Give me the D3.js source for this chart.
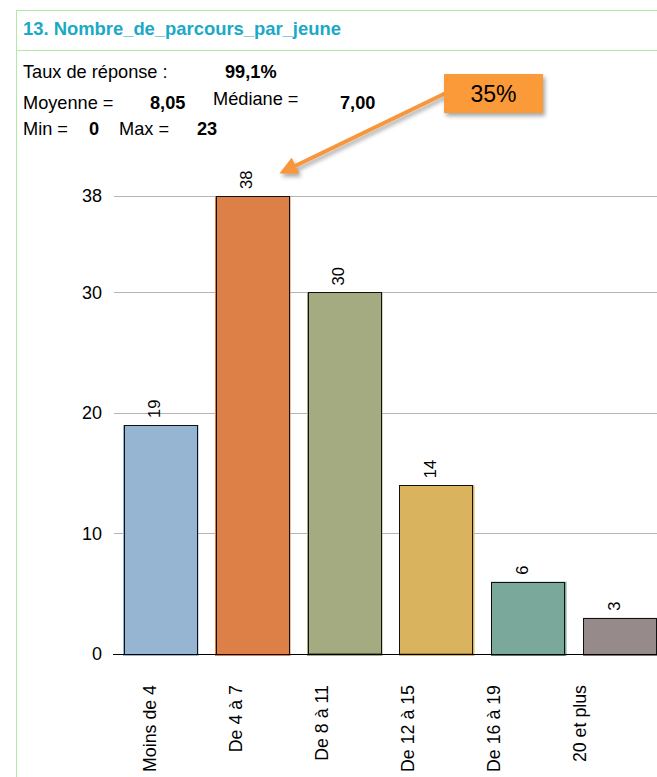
<!DOCTYPE html>
<html>
<head>
<meta charset="utf-8">
<script src="https://cdn.jsdelivr.net/npm/d3@7/dist/d3.min.js"></script>
<style>
  body { margin: 0; background: #fff; overflow: hidden; }
  svg { display: block; font-family: "Liberation Sans", Arial, sans-serif; }
</style>
</head>
<body>
<script>
// data
var categories = ["Moins de 4", "De 4 à 7", "De 8 à 11", "De 12 à 15", "De 16 à 19", "20 et plus"];
var counts = [19, 38, 30, 14, 6, 3];
var barColors = ["#95b5d3", "#dd8048", "#a4ab80", "#d9b35e", "#7aa99b", "#968b8a"];
var yTicks = [0, 10, 20, 30, 38];
var callout = "35%";

(function(){
  var width = 657, height = 777;
  var svg = d3.select("body").append("svg")
      .attr("width", width)
      .attr("height", height);

  // frame
  var frame = "#b3e8a8";
  svg.append("line").attr("x1", 16.5).attr("x2", 16.5).attr("y1", 10).attr("y2", height)
      .attr("stroke", frame);
  svg.append("line").attr("x1", 16).attr("x2", width).attr("y1", 10.5).attr("y2", 10.5)
      .attr("stroke", frame);
  svg.append("line").attr("x1", 16).attr("x2", width).attr("y1", 50.5).attr("y2", 50.5)
      .attr("stroke", frame);

  svg.append("text").attr("x", 23).attr("y", 35)
      .attr("fill", "#1aa9c6").attr("font-weight", "bold").attr("font-size", 18.4)
      .text("13. Nombre_de_parcours_par_jeune");

  // header stats
  var stats = [
    {t: "Taux de réponse :", x: 23, y: 78, b: false},
    {t: "99,1%", x: 225, y: 78, b: true},
    {t: "Moyenne =", x: 23, y: 109, b: false},
    {t: "8,05", x: 150, y: 109, b: true},
    {t: "Médiane =", x: 213, y: 105, b: false},
    {t: "7,00", x: 340, y: 109, b: true},
    {t: "Min =", x: 23, y: 135, b: false},
    {t: "0", x: 89, y: 135, b: true},
    {t: "Max =", x: 119, y: 135, b: false},
    {t: "23", x: 197, y: 135, b: true}
  ];
  svg.selectAll("text.stat").data(stats).enter().append("text")
      .attr("class", "stat")
      .attr("x", function(d){ return d.x; })
      .attr("y", function(d){ return d.y; })
      .attr("font-size", 18.2)
      .attr("font-weight", function(d){ return d.b ? "bold" : "normal"; })
      .text(function(d){ return d.t; });

  // scales
  var x = d3.scaleBand().domain(categories).range([114, 666])
      .paddingInner(0.2065).paddingOuter(0.1033);
  var xLab = d3.scaleBand().domain(categories).range([107, 623]);
  var y = d3.scaleLinear().domain([0, 38]).range([654, 196]);

  // grid
  svg.selectAll("line.grid").data(yTicks.filter(function(t){ return t > 0; })).enter()
      .append("line").attr("class", "grid")
      .attr("x1", 114).attr("x2", width)
      .attr("y1", function(d){ return Math.round(y(d)) + 0.5; })
      .attr("y2", function(d){ return Math.round(y(d)) + 0.5; })
      .attr("stroke", "#b4b4b4");

  svg.selectAll("text.ytick").data(yTicks).enter().append("text")
      .attr("class", "ytick")
      .attr("x", 102).attr("y", function(d){ return y(d); })
      .attr("dy", "0.35em")
      .attr("text-anchor", "end")
      .attr("font-size", 18)
      .text(function(d){ return d; });

  // bars
  var rows = categories.map(function(c, i){ return {cat: c, v: counts[i], col: barColors[i]}; });
  var g = svg.selectAll("g.bar").data(rows).enter().append("g").attr("class", "bar");
  g.append("rect")
      .attr("x", function(d){ return x(d.cat) - 0.5; })
      .attr("y", function(d){ return y(d.v); })
      .attr("width", x.bandwidth() + 2.5)
      .attr("height", function(d){ return y(0) - y(d.v) + 2; })
      .attr("fill", function(d){ return d.col; });
  g.append("rect")
      .attr("x", function(d){ return Math.round(x(d.cat)) + 0.5; })
      .attr("y", function(d){ return Math.round(y(d.v)) + 0.5; })
      .attr("width", x.bandwidth())
      .attr("height", function(d){ return y(0) - y(d.v); })
      .attr("fill", "none")
      .attr("stroke", "#111")
      .attr("stroke-width", 1);
  g.append("text")
      .attr("transform", function(d){
        return "translate(" + (x(d.cat) + x.bandwidth() / 2 - 6) + "," + (y(d.v) - 7) + ") rotate(-90)";
      })
      .attr("dy", "0.35em")
      .attr("font-size", 16.5)
      .text(function(d){ return d.v; });

  // baseline
  svg.append("line").attr("x1", 113).attr("x2", width)
      .attr("y1", Math.round(y(0)) + 0.5).attr("y2", Math.round(y(0)) + 0.5)
      .attr("stroke", "#000");

  // category labels
  svg.selectAll("text.xlab").data(categories).enter().append("text")
      .attr("class", "xlab")
      .attr("transform", function(d){
        return "translate(" + (xLab(d) + xLab.bandwidth() / 2) + ",685) rotate(-90)";
      })
      .attr("dy", "0.35em")
      .attr("text-anchor", "end")
      .attr("font-size", 17.8)
      .text(function(d){ return d; });

  // callout with arrow
  var defs = svg.append("defs");
  var f = defs.append("filter").attr("id", "sh").attr("x", "-20%").attr("y", "-20%")
      .attr("width", "150%").attr("height", "160%");
  f.append("feDropShadow").attr("dx", 2).attr("dy", 3).attr("stdDeviation", 2)
      .attr("flood-color", "#000").attr("flood-opacity", 0.35);
  defs.append("marker").attr("id", "ah")
      .attr("viewBox", "0 0 10 10").attr("refX", 8).attr("refY", 5)
      .attr("markerWidth", 4.5).attr("markerHeight", 4.5).attr("orient", "auto")
      .append("path").attr("d", "M0,0L10,5L0,10z").attr("fill", "#f7963a");

  var tipX = x(categories[1]) + x.bandwidth() * 0.92;
  var tipY = y(counts[1]) - 24;
  svg.append("line")
      .attr("x1", 446).attr("y1", 93)
      .attr("x2", tipX).attr("y2", tipY)
      .attr("stroke", "#f7963a").attr("stroke-width", 4)
      .attr("marker-end", "url(#ah)")
      .attr("filter", "url(#sh)");
  svg.append("rect").attr("x", 444).attr("y", 74).attr("width", 99).attr("height", 39)
      .attr("fill", "#fb9a38").attr("filter", "url(#sh)");
  svg.append("text").attr("x", 493.5).attr("y", 94).attr("dy", "0.35em")
      .attr("text-anchor", "middle")
      .attr("font-family", "'Liberation Sans Narrow', 'Liberation Sans', Arial, sans-serif")
      .attr("font-size", 23)
      .text(callout);
})();
</script>
</body>
</html>
